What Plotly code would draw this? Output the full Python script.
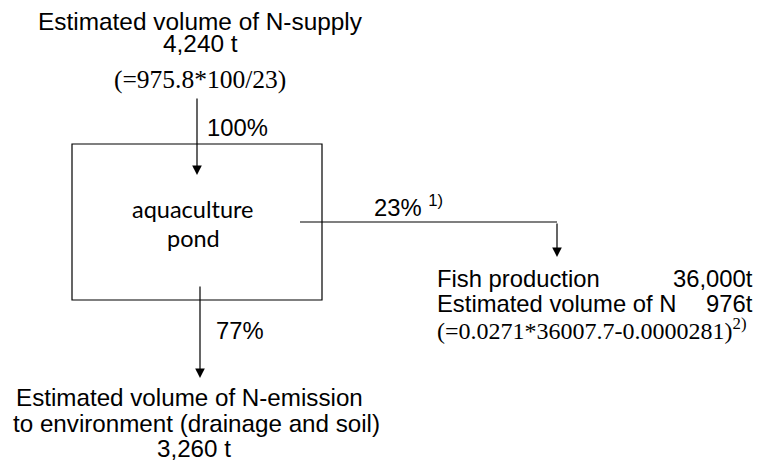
import plotly.graph_objects as go

# ---- diagram content (text) ----
supply_lines = ["Estimated volume of N-supply", "4,240 t"]
supply_formula = "(=975.8*100/23)"
pond_lines = ["aquaculture", "pond"]
pct_in = "100%"
pct_fish = "23% <sup>1)</sup>"
pct_env = "77%"
fish_labels = ["Fish production", "Estimated volume of N"]
fish_values = ["36,000t", "976t"]
fish_formula = "(=0.0271*36007.7-0.0000281)<sup>2)</sup>"
env_lines = ["Estimated volume of N-emission", "to environment (drainage and soil)", "3,260 t"]

# ---- layout geometry (pixel space of the 775x472 canvas) ----
W, H = 775, 472
PAGE = 8  # default page margin of the html body
box = dict(x0=72, x1=322, y0=144, y1=300)
supply_y = [21, 43]
supply_formula_y = 79
supply_x = 200
arrow_in = dict(x=197, y0=97, y1=175)
arrow_fish_h = dict(x0=300, x1=557, y=222)
arrow_fish_v = dict(x=557, y1=257)
arrow_env = dict(x=200, y0=285, y1=378)
pond_y = [209, 238]
fish_left, fish_right = 435, 755
fish_y = [278, 303]
fish_formula_y = 329
env_y = [397, 423, 448]
env_x = [189, 196, 194]

SANS = "Liberation Sans, Arial, sans-serif"
SERIF = "Liberation Serif, Times New Roman, serif"
CAL = "Lato, Carlito, Calibri, sans-serif"
FS = 23.8

fig = go.Figure()
fig.add_trace(go.Scatter(x=[PAGE, W], y=[PAGE, H], mode="markers",
                         marker=dict(opacity=0), hoverinfo="skip", showlegend=False))

shapes = [
    dict(type="rect", xref="x", yref="y", x0=box["x0"], x1=box["x1"], y0=box["y0"], y1=box["y1"],
         line=dict(color="#000", width=1.2)),
    dict(type="line", xref="x", yref="y", x0=arrow_fish_h["x0"], x1=arrow_fish_h["x1"],
         y0=arrow_fish_h["y"], y1=arrow_fish_h["y"], line=dict(color="#000", width=1.2)),
]

ann = []

def txt(x, y, s, font=SANS, size=FS, xanchor="center"):
    ann.append(dict(x=x, y=y, xref="x", yref="y", text=s, showarrow=False,
                    xanchor=xanchor, yanchor="middle",
                    font=dict(family=font, size=size, color="#000")))

def arrow(x, y0, y1):
    ann.append(dict(x=x, y=y1, ax=x, ay=y0, xref="x", yref="y", axref="x", ayref="y",
                    text="", showarrow=True, arrowhead=2, arrowsize=1.6, arrowwidth=1.2,
                    arrowcolor="#000", standoff=0, startstandoff=0))

txt(supply_x, supply_y[0], supply_lines[0], size=24.4)
txt(supply_x, supply_y[1], supply_lines[1], size=24.4)
txt(supply_x, supply_formula_y, supply_formula, font=SERIF, size=25.5)
arrow(arrow_in["x"], arrow_in["y0"], arrow_in["y1"])
txt(237, 127, pct_in)
for s, y in zip(pond_lines, pond_y):
    txt(193, y, s, font=CAL, size=23.5)
txt(408, 206, pct_fish)
arrow(arrow_fish_v["x"], arrow_fish_h["y"], arrow_fish_v["y1"])
for s, v, y in zip(fish_labels, fish_values, fish_y):
    txt(fish_left, y, s, xanchor="left")
    txt(fish_right, y, v, xanchor="right")
txt(fish_left, fish_formula_y, fish_formula, font=SERIF, size=24, xanchor="left")
arrow(arrow_env["x"], arrow_env["y0"], arrow_env["y1"])
txt(240, 330, pct_env)
for s, x, y in zip(env_lines, env_x, env_y):
    txt(x, y, s, size=24.2)

fig.update_layout(
    width=W - PAGE, height=H - PAGE, margin=dict(l=0, r=0, t=0, b=0),
    paper_bgcolor="white", plot_bgcolor="white",
    xaxis=dict(range=[PAGE, W], visible=False, fixedrange=True),
    yaxis=dict(range=[H, PAGE], visible=False, fixedrange=True),
    shapes=shapes, annotations=ann, showlegend=False,
)
fig.write_html("out.html")
